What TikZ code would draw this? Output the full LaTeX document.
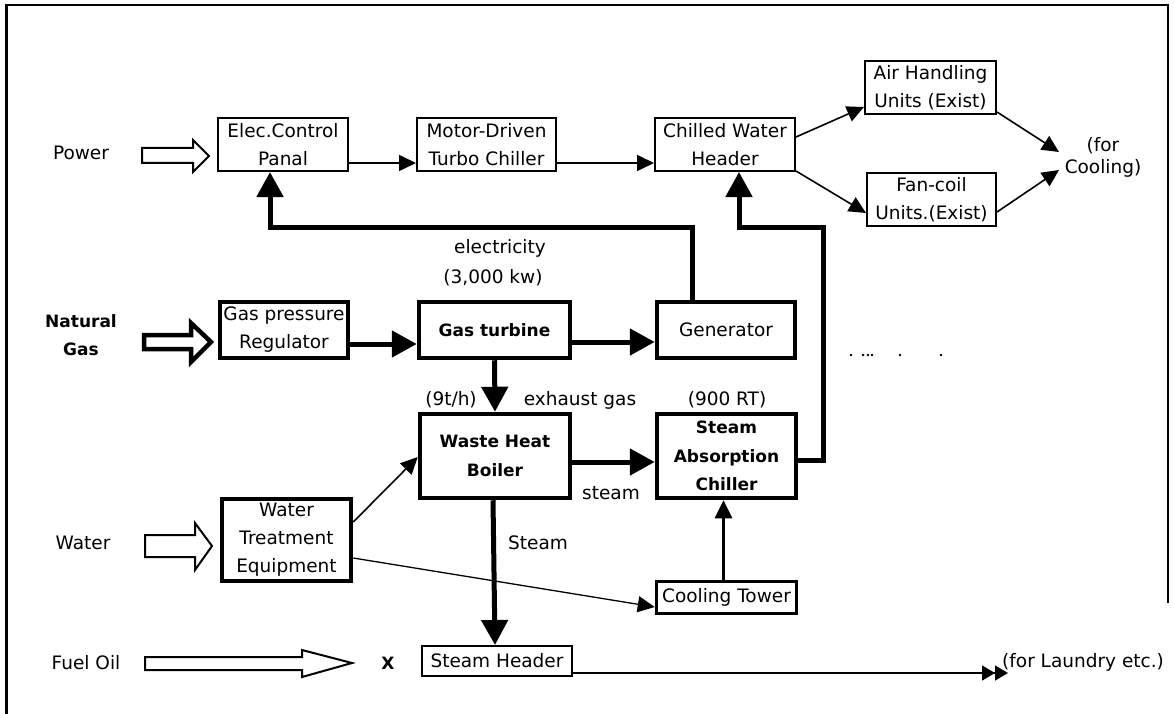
\documentclass[tikz,border=0pt]{standalone}
\usepackage{fontspec}
\setmainfont{DejaVu Sans}
\usetikzlibrary{arrows.meta,calc}
\newcommand\myreg{\fontsize{18.5}{28}\selectfont}
\newcommand\mybold{\fontsize{17}{28.5}\selectfont\bfseries}
\begin{document}
\begin{tikzpicture}[x=1pt,y=-1pt,
  tb/.style={draw, line width=2pt, inner sep=0pt, align=center, font=\myreg},
  kb/.style={draw, line width=4.5pt, inner sep=0pt, align=center, font=\myreg},
  kbb/.style={kb, font=\mybold},
  lab/.style={inner sep=0pt, font=\myreg},
  labb/.style={inner sep=0pt, font=\mybold, align=center},
  thinarr/.style={line width=1.6pt, -{Triangle[length=17pt,width=16pt]}},
  thickarr/.style={line width=5pt, -{Triangle[length=25pt,width=26pt]}},
  midarr/.style={line width=3pt, -{Triangle[length=18pt,width=17pt]}},
  hollow/.style={draw, line width=2pt, fill=white, line join=miter},
]
\useasboundingbox (0,0) rectangle (1174,714);
% frame
\draw[line width=3pt] (6,714) -- (6,5);
\draw[line width=2pt] (5,5) -- (1168,5) -- (1168,603);

% boxes
\node[tb, minimum width=130pt, minimum height=53pt] (elec) at (283,144.5) {Elec.Control\\Panal};
\node[tb, minimum width=139pt, minimum height=53pt] (motor) at (486.5,144.5) {Motor-Driven\\Turbo Chiller};
\node[tb, minimum width=140pt, minimum height=53pt] (cwh) at (725,144.5) {Chilled Water\\Header};
\node[tb, minimum width=131pt, minimum height=53pt] (ahu) at (930.5,87.5) {Air Handling\\Units (Exist)};
\node[tb, minimum width=129pt, minimum height=53pt] (fcu) at (931.5,199.5) {Fan-coil\\Units.(Exist)};
\node[kb, minimum width=128pt, minimum height=56pt] (gpr) at (284,330) {Gas pressure\\Regulator};
\node[kbb, minimum width=151pt, minimum height=56pt] (gt) at (494.5,330) {Gas turbine};
\node[kb, minimum width=138pt, minimum height=56pt] (gen) at (726,330) {Generator};
\node[kbb, minimum width=150pt, minimum height=84pt] (whb) at (495,456) {Waste Heat\\Boiler};
\node[kbb, minimum width=139pt, minimum height=84pt] (sac) at (726.5,456) {Steam\\Absorption\\Chiller};
\node[kb, minimum width=129pt, minimum height=82pt] (wte) at (286.5,540) {Water\\Treatment\\Equipment};
\node[kb, line width=3.5pt, minimum width=140pt, minimum height=32pt] (ct) at (726.5,597.5) {Cooling Tower};
\node[tb, minimum width=150pt, minimum height=30pt] (sh) at (497,661) {Steam Header};

% labels
\node[lab] (power) at (81,153) {Power};
\node[labb] (ngas) at (81,335) {Natural\\Gas};
\node[lab] (water) at (83,543) {Water};
\node[lab] (fuel) at (86,663) {Fuel Oil};
\node[labb] (xmark) at (388,663) {X};
\node[lab] (elecy) at (500,248) {electricity};
\node[lab] (kw) at (493,278) {(3,000 kw)};
\node[lab] (tph) at (451,400) {(9t/h)};
\node[lab] (exh) at (580,400) {exhaust gas};
\node[lab] (rt) at (727,400) {(900 RT)};
\node[lab] (stm1) at (611,493) {steam};
\node[lab] (stm2) at (538,543) {Steam};
\node[lab, align=center, font=\fontsize{18.5}{22}\selectfont] (cool) at (1103,157) {(for\\Cooling)};
\node[lab, anchor=west] (laundry) at (1002,662) {(for Laundry etc.)};
\coordinate (c1) at (1059,152);
\coordinate (c2) at (1059,170);
\coordinate (lt) at (1008,673);

% hollow input arrows
\draw[hollow] (142,148) -- (193,148) -- (193,140) -- (209,156) -- (193,172) -- (193,163) -- (142,163) -- cycle;
\draw[hollow, line width=4.5pt] (144,335) -- (191,335) -- (191,323) -- (211,342) -- (191,362) -- (191,349) -- (144,349) -- cycle;
\draw[hollow] (145,535) -- (195,535) -- (195,523) -- (212,546) -- (195,570) -- (195,557) -- (145,557) -- cycle;
\draw[hollow] (145,657) -- (302,657) -- (302,650) -- (352,663) -- (302,677) -- (302,670) -- (145,670) -- cycle;

% thin connectors
\draw[thinarr] (elec.east |- 0,163) -- (motor.west |- 0,163);
\draw[thinarr] (motor.east |- 0,163) -- (cwh.west |- 0,163);
\draw[thinarr] (cwh.east |- 0,137) -- (ahu.west |- 0,107);
\draw[thinarr] (cwh.east |- 0,171) -- (fcu.west |- 0,213);
\draw[thinarr] (ahu.east |- 0,112) -- (c1);
\draw[thinarr] (fcu.east |- 0,212) -- (c2);
\draw[thinarr] (wte.east |- 0,522) -- (whb.west |- 0,457);
\draw[thinarr, line width=1.3pt] (wte.east |- 0,558) -- (ct.west |- 0,607);
\draw[line width=1.4pt, -{Triangle[length=13pt,width=15pt]Triangle[length=13pt,width=15pt]}] (sh.east |- 0,673) -- (lt);

% thick connectors
\draw[thickarr] (gpr.east |- 0,344) -- (gt.west |- 0,344);
\draw[thickarr] (gt.east |- 0,342) -- (gen.west |- 0,342);
\draw[thickarr] (gt.south) -- (whb.north);
\draw[thickarr] (whb.east |- 0,462) -- (sac.west |- 0,462);
\draw[thickarr] ([xshift=-2pt]whb.south) -- ([xshift=-2pt]sh.north);
\draw[thickarr] ([xshift=-34pt]gen.north) |- (270,227) -- ([xshift=-13pt]elec.south);
\draw[thickarr] (sac.east |- 0,460) -| (823,227) -| ([xshift=14pt]cwh.south);
\draw[midarr] ([xshift=-3pt]ct.north) -- ([xshift=-3pt]sac.south);

% dots
\foreach \px in {851,863,868,872,900,941} \fill (\px,355) circle (1.3pt);
\end{tikzpicture}
\end{document}
